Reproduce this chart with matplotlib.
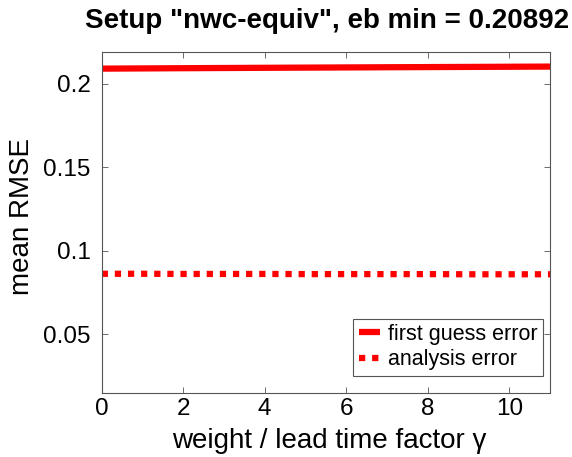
import matplotlib
matplotlib.use("Agg")
import matplotlib.pyplot as plt

gamma = [0, 1, 2, 3, 4, 5, 6, 7, 8, 9, 10, 11]
first_guess = [0.20892, 0.20905, 0.20918, 0.20930, 0.20942, 0.20953, 0.20964, 0.20975, 0.20985, 0.20995, 0.21005, 0.21015]
analysis = [0.0861, 0.0861, 0.0860, 0.0860, 0.0860, 0.0859, 0.0859, 0.0859, 0.0859, 0.0858, 0.0858, 0.0858]
xticks = [0, 2, 4, 6, 8, 10]
yticks = [0.05, 0.1, 0.15, 0.2]
yticklabels = ["0.05", "0.1", "0.15", "0.2"]

plt.rcParams['font.family'] = ['Liberation Sans', 'DejaVu Sans']

W, H = 572, 457
L, R, T, B = 101.7, 550, 52.3, 392.7
fig = plt.figure(figsize=(W/100, H/100), dpi=100)
ax = fig.add_axes([L/W, 1-B/H, (R-L)/W, (B-T)/H])

ax.plot(gamma, first_guess, color='red', lw=4.5, solid_capstyle='butt', label='first guess error')
ax.plot(gamma, analysis, color='red', lw=4.5, linestyle=(0, (1, 1.1)), dash_capstyle='butt', label='analysis error')

ax.set_xlim(0, 11)
ax.set_ylim(0.0149, 0.2187)
ax.set_xticks(xticks)
ax.set_yticks(yticks)
ax.set_yticklabels(yticklabels)
ax.tick_params(direction='in', length=4, width=0.6, labelsize=17.5, top=True, right=True, colors='#555555')
ax.tick_params(axis='x', labelcolor='black', pad=4)
ax.tick_params(axis='y', labelcolor='black', pad=8)
for s in ax.spines.values():
    s.set_linewidth(0.8)
    s.set_color('#555555')

ax.set_xlabel('weight / lead time factor γ', fontsize=20)
ax.set_ylabel('mean RMSE', fontsize=20)
ax.xaxis.set_label_coords((329-L)/(R-L), (B-428)/(B-T))
ax.yaxis.set_label_coords((35-L)/(R-L), (B-216.5)/(B-T))
fig.text(327/W, 1-28/H, 'Setup "nwc-equiv", eb min = 0.20892', fontsize=20,
         fontweight='bold', ha='center', va='baseline')

leg = ax.legend(loc='lower right', bbox_to_anchor=((542.7-L)/(R-L), (B-375.7)/(B-T)),
                fontsize=15.5, handlelength=1.0, handletextpad=0.35,
                borderaxespad=0, fancybox=False, framealpha=1, edgecolor='#555555',
                borderpad=0.25, labelspacing=0.2)
leg.get_frame().set_linewidth(0.8)

fig.savefig('out.png', dpi=100)
